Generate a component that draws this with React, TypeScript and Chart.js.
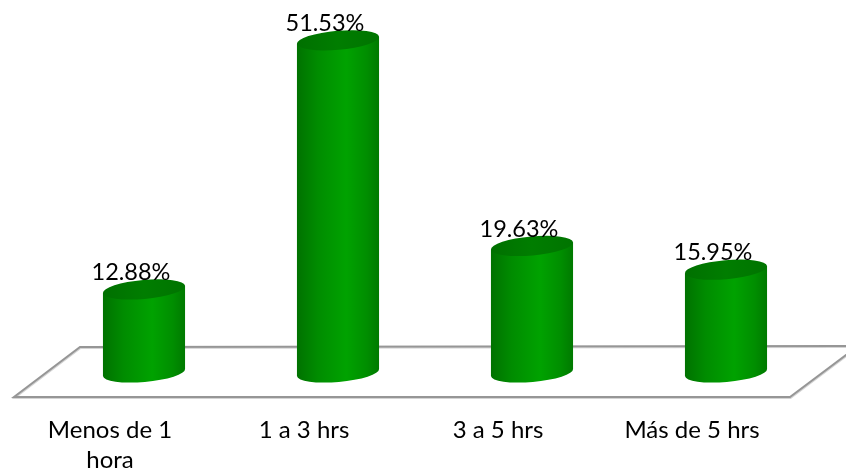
import { useEffect, useRef } from "react";
import { Chart, registerables } from "chart.js";

Chart.register(...registerables);

const categories = [["Menos de 1", "hora"], "1 a 3 hrs", "3 a 5 hrs", "Más de 5 hrs"];
const shares = [12.88, 51.53, 19.63, 15.95];
const valueLabels = ["12.88%", "51.53%", "19.63%", "15.95%"];

const FONT = "Lato, 'Open Sans', sans-serif";
const TILT = (-5 * Math.PI) / 180;
const CAP_RY = 9.5;

// Receding floor of the pseudo-3D plot, placed relative to the zero line.
const floorPlugin = {
  id: "floor",
  beforeDatasetsDraw(chart: any) {
    const { ctx } = chart;
    const zero = chart.scales.y.getPixelForValue(0);
    const drawFloor = (dx: number, dy: number, colour: string, w: number) => {
      ctx.save();
      ctx.beginPath();
      ctx.moveTo(80 + dx, zero - 25.5 + dy);
      ctx.lineTo(858 + dx, zero - 26.5 + dy);
      ctx.lineTo(790 + dx, zero + 24.5 + dy);
      ctx.lineTo(14 + dx, zero + 24.5 + dy);
      ctx.closePath();
      ctx.strokeStyle = colour;
      ctx.lineWidth = w;
      ctx.stroke();
      ctx.restore();
    };
    drawFloor(0.5, 1, "#d4d4d4", 2);
    drawFloor(0, 0, "#969696", 2);
  },
};

// Draws each bar as a tilted cylinder using the geometry of its bar element.
const cylinderPlugin = {
  id: "cylinder",
  afterDatasetsDraw(chart: any) {
    const { ctx } = chart;
    chart.getDatasetMeta(0).data.forEach((bar: any) => {
      const { x, y, base, width } = bar.getProps(["x", "y", "base", "width"], true);
      const rx = width / 2 + 0.2;
      const left = x - width / 2;
      const right = x + width / 2;
      const lift = Math.sin(TILT) * rx;

      const wall = ctx.createLinearGradient(left, 0, right, 0);
      wall.addColorStop(0, "#007200");
      wall.addColorStop(0.25, "#008c00");
      wall.addColorStop(0.6, "#00a200");
      wall.addColorStop(0.85, "#008e00");
      wall.addColorStop(1, "#007a00");

      ctx.save();
      ctx.beginPath();
      ctx.ellipse(x, base, rx, CAP_RY, TILT, 0, Math.PI);
      ctx.lineTo(x - rx * Math.cos(TILT), y - lift);
      ctx.lineTo(x + rx * Math.cos(TILT), y + lift);
      ctx.closePath();
      ctx.fillStyle = wall;
      ctx.fill();

      const cap = ctx.createLinearGradient(left, 0, right, 0);
      cap.addColorStop(0, "#007000");
      cap.addColorStop(0.5, "#007d00");
      cap.addColorStop(1, "#007400");
      ctx.beginPath();
      ctx.ellipse(x, y, rx, CAP_RY, TILT, 0, Math.PI * 2);
      ctx.fillStyle = cap;
      ctx.fill();
      ctx.restore();
    });
  },
};

// Value captions, offset up and to the left of each cylinder's cap.
const valueLabelPlugin = {
  id: "valueLabels",
  afterDraw(chart: any) {
    const { ctx } = chart;
    ctx.save();
    ctx.font = `23.5px ${FONT}`;
    ctx.fillStyle = "#000000";
    ctx.textAlign = "center";
    ctx.textBaseline = "middle";
    chart.getDatasetMeta(0).data.forEach((bar: any, i: number) => {
      ctx.fillText(valueLabels[i], bar.x - 13, bar.y - 17);
    });
    ctx.restore();
  },
};

export default function App() {
  const canvasRef = useRef<HTMLCanvasElement>(null);

  useEffect(() => {
    const chart = new Chart(canvasRef.current!, {
      type: "bar",
      data: {
        labels: categories,
        datasets: [
          {
            data: shares,
            backgroundColor: "transparent",
            borderWidth: 0,
            barThickness: 82,
          },
        ],
      },
      options: {
        responsive: false,
        animation: false,
        events: [],
        layout: { padding: { left: 47, right: 23, top: 5, bottom: 0 } },
        plugins: { legend: { display: false }, tooltip: { enabled: false } },
        scales: {
          y: { display: false, min: 0, max: 57 },
          x: {
            grid: { display: false },
            border: { display: false },
            afterFit(scale: any) {
              scale.height = 101.5;
            },
            ticks: {
              autoSkip: false,
              maxRotation: 0,
              minRotation: 0,
              labelOffset: -34,
              padding: 35,
              color: "#000000",
              font: { family: FONT, size: 24, lineHeight: 1.25 },
            },
          },
        },
      },
      plugins: [floorPlugin, cylinderPlugin, valueLabelPlugin],
    } as any);
    return () => chart.destroy();
  }, []);

  return (
    <div style={{ position: "fixed", left: 0, top: 0, width: 846, height: 474, background: "#ffffff" }}>
      <canvas ref={canvasRef} width={846} height={474} style={{ display: "block" }} />
    </div>
  );
}
